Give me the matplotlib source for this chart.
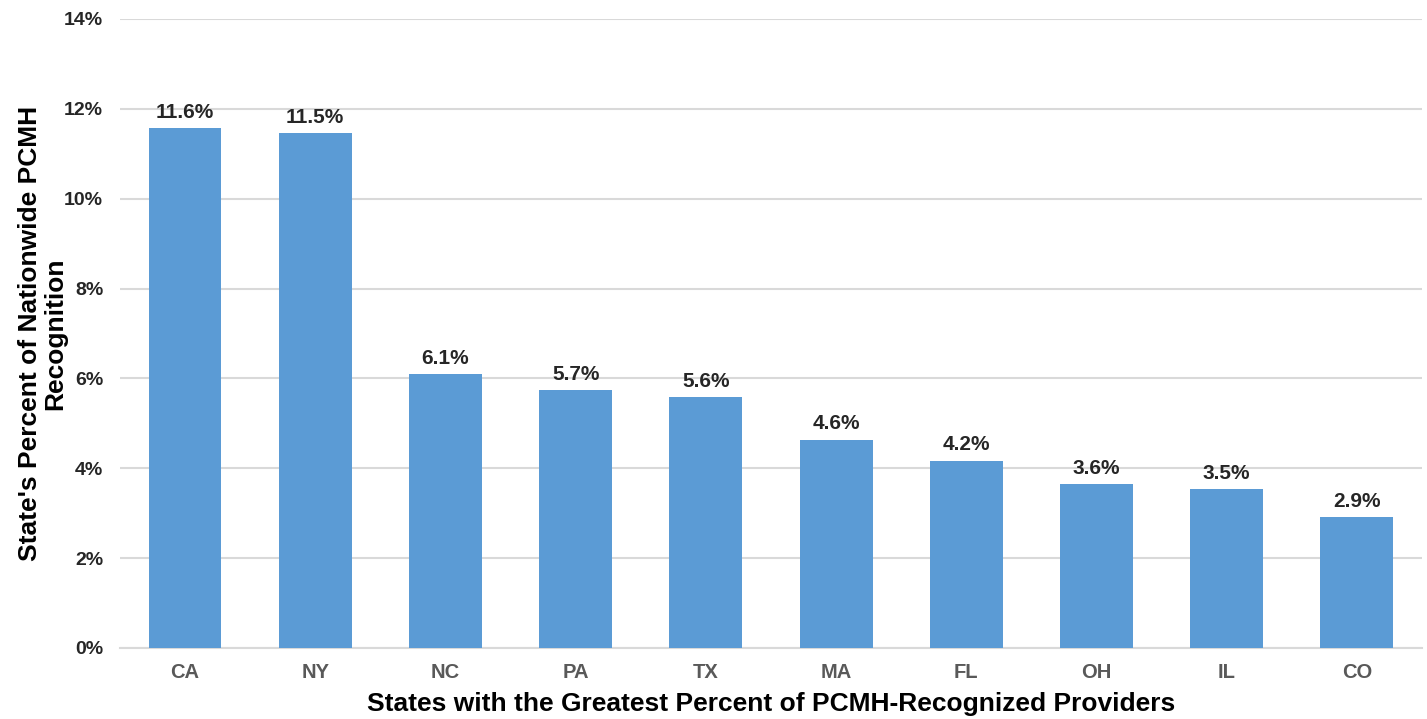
import matplotlib
matplotlib.use("Agg")
import matplotlib.pyplot as plt
from matplotlib.ticker import FuncFormatter

states = ["CA", "NY", "NC", "PA", "TX", "MA", "FL", "OH", "IL", "CO"]
percents = [11.57, 11.46, 6.10, 5.74, 5.58, 4.64, 4.17, 3.64, 3.54, 2.91]
yticks = [0, 2, 4, 6, 8, 10, 12, 14]

plt.rcParams['font.family'] = ['Liberation Sans', 'DejaVu Sans']

fig = plt.figure(figsize=(14.27, 7.19), dpi=100)
ax = fig.add_axes([0.084, 0.0988, 0.9125, 0.8748])

x = range(len(states))
bars = ax.bar(x, percents, width=0.56, color="#5B9BD5", zorder=3)
for xi, v in zip(x, percents):
    ax.text(xi, v + 0.14, f"{v:.1f}%", ha="center", va="bottom",
            fontsize=15, fontweight="bold", color="#262626")

ax.set_xlim(-0.5, len(states) - 0.5)
ax.set_ylim(0, 14)
ax.set_yticks(yticks)
ax.yaxis.set_major_formatter(FuncFormatter(lambda v, p: f"{v:.0f}%"))
ax.set_xticks(list(x))
ax.set_xticklabels(states)
ax.grid(axis="y", color="#D9D9D9", linewidth=1.5, zorder=0)
for s in ["top", "right", "left"]:
    ax.spines[s].set_visible(False)
ax.spines["bottom"].set_color("#D9D9D9")
ax.spines["bottom"].set_linewidth(1.5)
ax.tick_params(axis="both", length=0)
ax.tick_params(axis="y", labelsize=14, pad=12, labelcolor="#262626")
ax.tick_params(axis="x", labelsize=14.5, pad=11, labelcolor="#595959")
for lbl in ax.get_yticklabels() + ax.get_xticklabels():
    lbl.set_fontweight("bold")

ax.set_xlabel("States with the Greatest Percent of PCMH-Recognized Providers",
              fontsize=19, fontweight="bold", va="center")
ax.xaxis.set_label_coords(0.5, -0.089)
ax.set_ylabel("State's Percent of Nationwide PCMH\nRecognition",
              fontsize=19, fontweight="bold", linespacing=1.08, va="center")
ax.yaxis.set_label_coords(-0.0595, 0.5)

fig.savefig("out.png", dpi=100)
